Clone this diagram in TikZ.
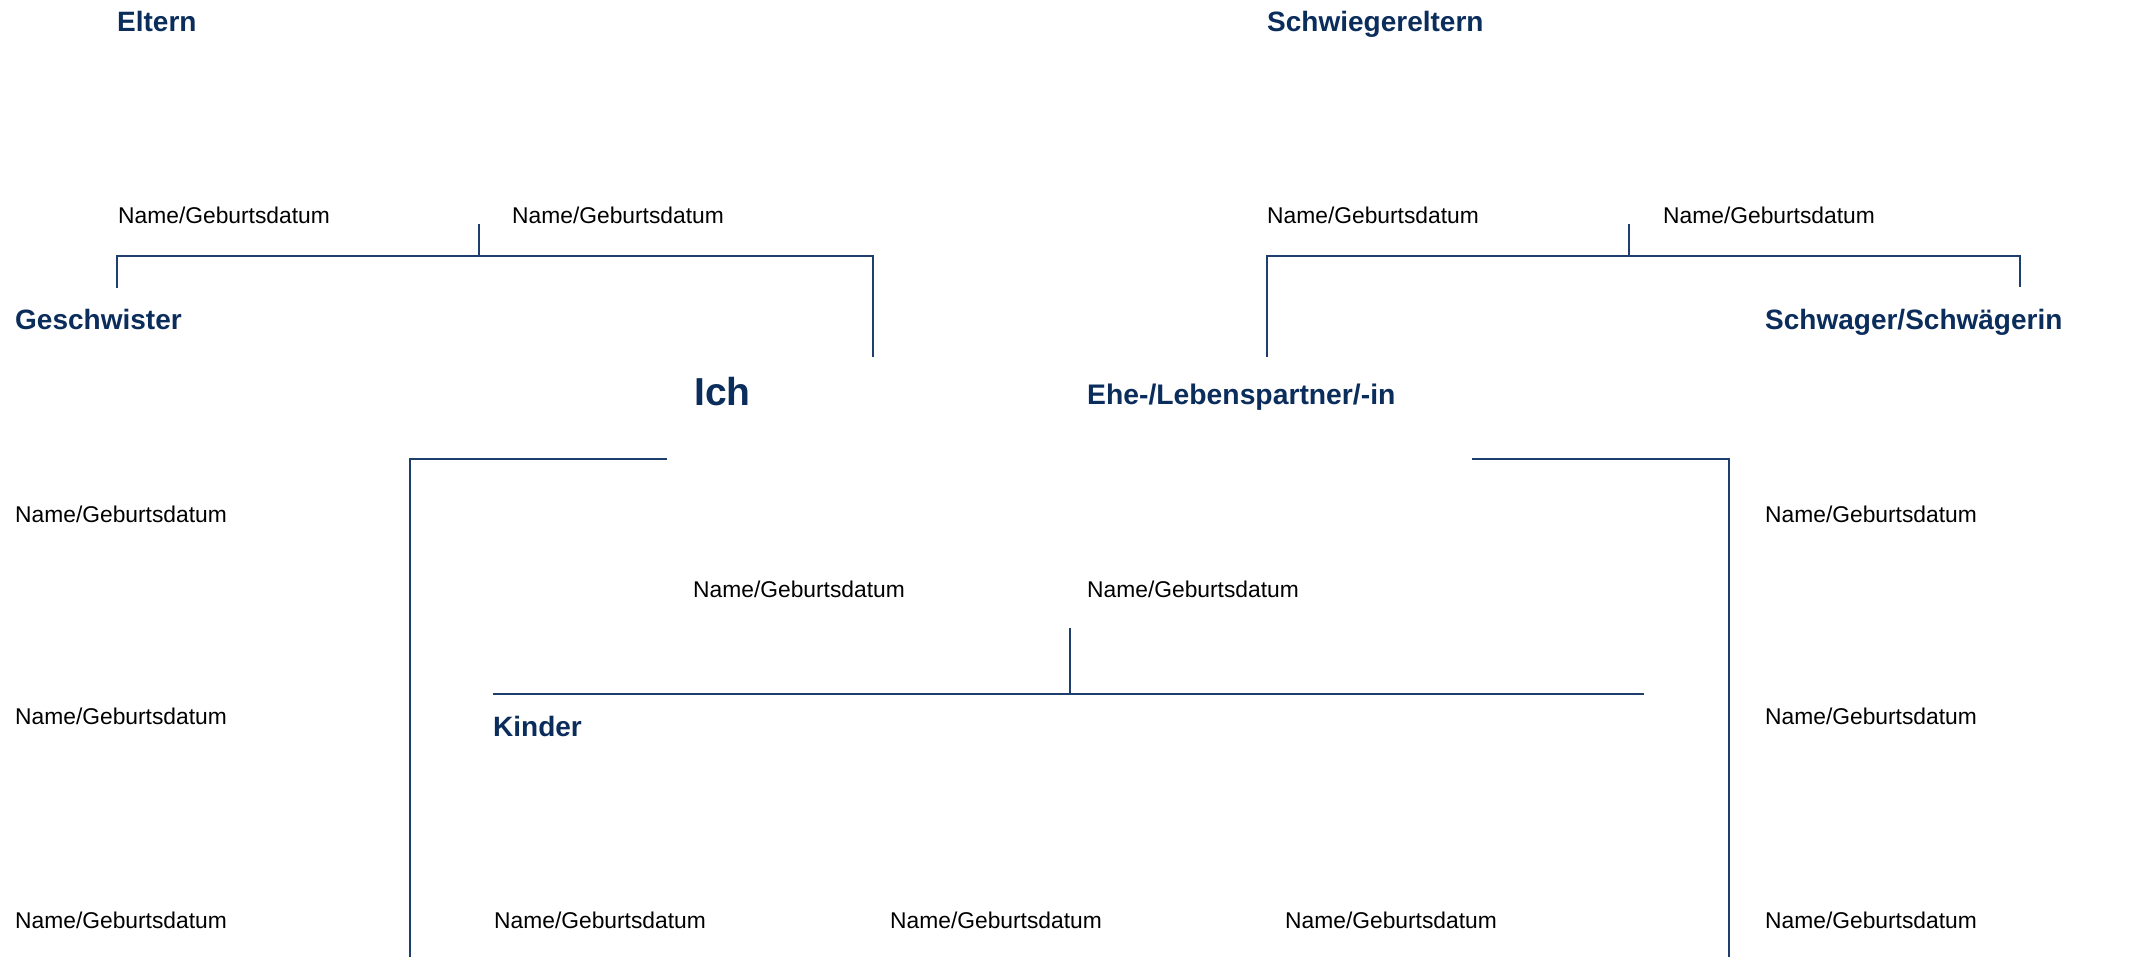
\documentclass[tikz,border=0pt]{standalone}
\usepackage{fontspec}
\setmainfont{Liberation Sans}
\definecolor{navy}{HTML}{0B2D5C}
\definecolor{linec}{HTML}{1E3F6E}
\begin{document}
\begin{tikzpicture}[x=1pt,y=-1pt,
  head/.style={anchor=base west,inner sep=0pt,text=navy,font=\fontsize{28}{30}\selectfont\bfseries},
  big/.style={anchor=base west,inner sep=0pt,text=navy,font=\fontsize{39}{42}\selectfont\bfseries},
  nm/.style={anchor=base west,inner sep=0pt,text=black,font=\fontsize{22.8}{26}\selectfont},
  conn/.style={draw=linec,line width=1.5pt}]
\useasboundingbox (0,0) rectangle (2130,957);
% headings
\node[head] (eltern) at (117,32) {Eltern};
\node[head] (schwe) at (1267,32) {Schwiegereltern};
\node[head] (gesch) at (15,330) {Geschwister};
\node[head] (schwa) at (1765,330) {Schwager/Schwägerin};
\node[big] (ich) at (694,405) {Ich};
\node[head] (ehe) at (1087,404.5) {\fontsize{28.3}{30}\selectfont Ehe-/Lebenspartner/-in};
\node[head] (kinder) at (493,736) {Kinder};
% names
\node[nm] (p1) at (118,223.5) {Name/Geburtsdatum};
\node[nm] (p2) at (512,223.5) {Name/Geburtsdatum};
\node[nm] (s1) at (1267,223.5) {Name/Geburtsdatum};
\node[nm] (s2) at (1663,223.5) {Name/Geburtsdatum};
\node[nm] (g1) at (15,522.5) {Name/Geburtsdatum};
\node[nm] (g2) at (15,724.5) {Name/Geburtsdatum};
\node[nm] (g3) at (15,928.5) {Name/Geburtsdatum};
\node[nm] (w1) at (1765,522.5) {Name/Geburtsdatum};
\node[nm] (w2) at (1765,724.5) {Name/Geburtsdatum};
\node[nm] (w3) at (1765,928.5) {Name/Geburtsdatum};
\node[nm] (c1) at (693,597.5) {Name/Geburtsdatum};
\node[nm] (c2) at (1087,597.5) {Name/Geburtsdatum};
\node[nm] (k1) at (494,928.5) {Name/Geburtsdatum};
\node[nm] (k2) at (890,928.5) {Name/Geburtsdatum};
\node[nm] (k3) at (1285,928.5) {Name/Geburtsdatum};
% coordinates
\coordinate (pt) at (479,224);
\coordinate (pm) at (479,256);
\coordinate (pl) at (117,256);
\coordinate (pls) at (117,288);
\coordinate (pr) at (873,256);
\coordinate (prs) at (873,357);
\coordinate (st) at (1629,224);
\coordinate (sm) at (1629,256);
\coordinate (sl) at (1267,256);
\coordinate (sls) at (1267,357);
\coordinate (sr) at (2020,256);
\coordinate (srs) at (2020,287);
\coordinate (ia) at (667,459);
\coordinate (ib) at (410,459);
\coordinate (ic) at (410,957);
\coordinate (ea) at (1472,459);
\coordinate (eb) at (1729,459);
\coordinate (ec) at (1729,957);
\coordinate (kt) at (1070,628);
\coordinate (km) at (1070,694);
\coordinate (kl) at (493,694);
\coordinate (kr) at (1644,694);
% connectors
\draw[conn] (pt) -- (pm);
\draw[conn] (pls) -- (pl) -- (pr) -- (prs);
\draw[conn] (st) -- (sm);
\draw[conn] (sls) -- (sl) -- (sr) -- (srs);
\draw[conn] (ia) -- (ib) -- (ic);
\draw[conn] (ea) -- (eb) -- (ec);
\draw[conn] (kt) -- (km);
\draw[conn] (kl) -- (kr);
\end{tikzpicture}
\end{document}
